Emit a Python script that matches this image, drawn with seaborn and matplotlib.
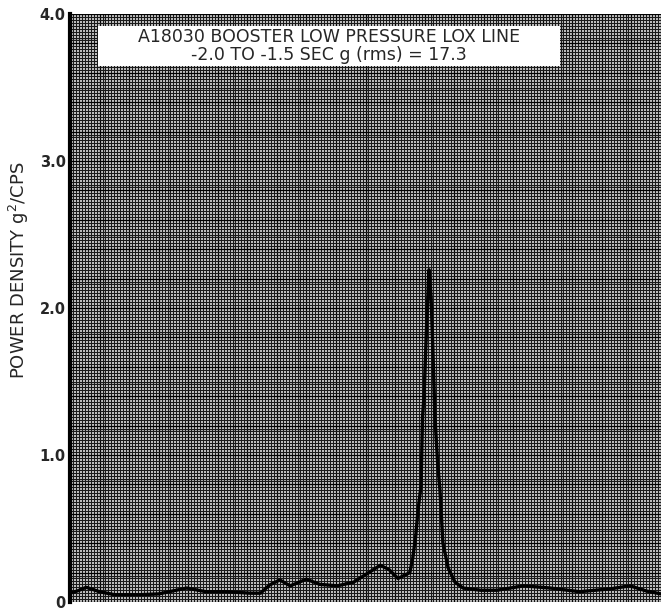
import numpy as np
import pandas as pd
import matplotlib
matplotlib.use("Agg")
import matplotlib.pyplot as plt
from matplotlib.patches import Rectangle
import seaborn as sns

# Power spectral density, A18030 booster low pressure LOX line
freq_cps = [0, 25, 55, 100, 150, 240, 300, 395, 460, 530, 610, 645, 675, 710,
            745, 800, 845, 905, 960, 1050, 1080, 1110, 1150, 1160, 1170, 1178,
            1188, 1193, 1198, 1208, 1215, 1222, 1228, 1235, 1244, 1252, 1262,
            1280, 1303, 1330, 1390, 1445, 1535, 1625, 1725, 1830, 1895, 1950, 2000]
psd_g2_per_cps = [0.06, 0.075, 0.10, 0.07, 0.05, 0.05, 0.055, 0.095, 0.07, 0.07,
                  0.06, 0.06, 0.115, 0.15, 0.11, 0.155, 0.12, 0.11, 0.135, 0.25,
                  0.22, 0.16, 0.20, 0.30, 0.45, 0.63, 0.79, 1.26, 1.40, 1.94, 2.26,
                  2.07, 1.72, 1.26, 0.95, 0.76, 0.40, 0.23, 0.135, 0.095, 0.08, 0.08,
                  0.11, 0.095, 0.07, 0.09, 0.11, 0.075, 0.055]

y_ticks = [0.0, 1.0, 2.0, 3.0, 4.0]
y_tick_labels = ["0", "1.0", "2.0", "3.0", "4.0"]

title_lines = ["A18030 BOOSTER LOW PRESSURE LOX LINE",
               "-2.0 TO -1.5 SEC g (rms) = 17.3"]
y_label = "POWER DENSITY g$^2$/CPS"

df = pd.DataFrame({"freq": freq_cps, "psd": psd_g2_per_cps})

sns.set_theme(style="white")
plt.rcParams["font.family"] = ["DejaVu Sans"]

fig = plt.figure(figsize=(6.61, 6.11), dpi=100)
ax = fig.add_axes([70 / 661, 9 / 611, 591 / 661, 588 / 611])
ax.set_facecolor("#eeeeee")

ax.set_xlim(0, 2000)
ax.set_ylim(0, 4.0)

# graph-paper ruling: fine lines every 10 cps / 0.02, bold lines every 100 cps / 0.2
ax.set_xticks(np.arange(0, 2001, 100))
ax.set_xticks(np.arange(0, 2001, 10), minor=True)
ax.set_yticks(np.arange(0, 4.01, 0.2))
ax.set_yticks(np.arange(0, 4.001, 0.02), minor=True)
ax.grid(which="minor", color="#1a1a1a", linewidth=0.9)
ax.grid(which="major", color="#000000", linewidth=1.0)
ax.set_axisbelow(True)
ax.tick_params(which="both", length=0)
ax.set_xticklabels([])

# ordinate labels only at whole units
major_y = np.arange(0, 4.01, 0.2)
ax.set_yticklabels([y_tick_labels[y_ticks.index(round(v, 1))] if round(v, 1) in y_ticks else ""
                    for v in major_y], fontsize=10.5, fontweight="bold")
ax.tick_params(axis="y", pad=3)

sns.lineplot(data=df, x="freq", y="psd", ax=ax, color="black", linewidth=2.4)
ax.set_xlabel("")
ax.set_ylabel(y_label, fontsize=13)
ax.yaxis.set_label_coords(-39 / 591, 0.565)

for side in ["top", "right", "bottom"]:
    ax.spines[side].set_visible(False)
ax.spines["left"].set_linewidth(3.0)
ax.spines["left"].set_color("black")

# caption box over the ruling
ax.add_patch(Rectangle((28 / 591, 1 - 52 / 588), 462 / 591, 40 / 588,
                       transform=ax.transAxes, facecolor="white",
                       edgecolor="none", zorder=3))
ax.text(259 / 591, 1 - 32 / 588, "\n".join(title_lines), transform=ax.transAxes,
        ha="center", va="center", fontsize=12.5, linespacing=1.05, zorder=4)

fig.savefig("out.png", dpi=100)
